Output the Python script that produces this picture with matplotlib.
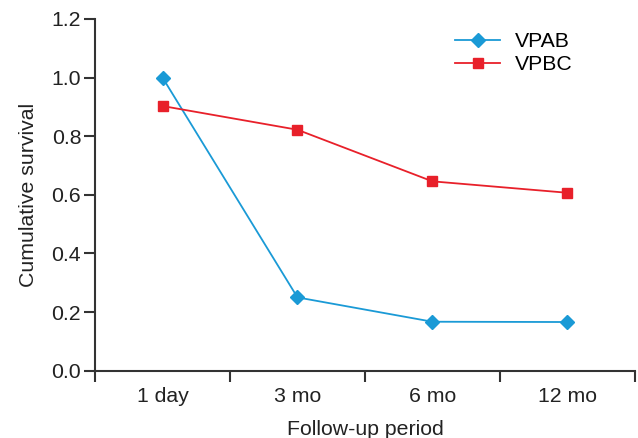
import matplotlib
matplotlib.use("Agg")
import matplotlib.pyplot as plt

plt.rcParams['font.family'] = ['Liberation Sans', 'DejaVu Sans']

# data
periods = ["1 day", "3 mo", "6 mo", "12 mo"]
vpab = [1.0, 0.25, 0.167, 0.166]
vpbc = [0.903, 0.822, 0.646, 0.607]

fs = 15.3
fig = plt.figure(figsize=(6.38, 4.38), dpi=100)
ax = fig.add_axes([0.149, 0.1537, 0.846, 0.803])

x = list(range(len(periods)))
ax.plot(x, vpab, color='#1a9ad6', marker='D', markersize=7, linewidth=1.3, label='VPAB')
ax.plot(x, vpbc, color='#e8202a', marker='s', markersize=6.5, linewidth=1.3, label='VPBC')

ax.set_xlim(-0.5, 3.5)
ax.set_ylim(0, 1.2)
ax.set_yticks([0.0, 0.2, 0.4, 0.6, 0.8, 1.0, 1.2])
ax.set_yticklabels(["0.0", "0.2", "0.4", "0.6", "0.8", "1.0", "1.2"])
ax.set_xticks([-0.5, 0.5, 1.5, 2.5, 3.5])
ax.set_xticklabels([])
ax.set_xticks(x, minor=True)
ax.set_xticklabels(periods, minor=True)
ax.tick_params(axis='x', which='minor', length=0, pad=12, labelsize=fs, colors='#222222')
ax.tick_params(axis='x', which='major', length=8, width=1.5, color='#333333')
ax.tick_params(axis='y', length=8, width=1.5, color='#333333', labelsize=fs, labelcolor='#222222', pad=2)

for s in ['top', 'right']:
    ax.spines[s].set_visible(False)
for s in ['left', 'bottom']:
    ax.spines[s].set_linewidth(1.5)
    ax.spines[s].set_color('#333333')

ax.set_xlabel("Follow-up period", fontsize=fs, color='#222222', labelpad=9.5)
ax.set_ylabel("Cumulative survival", fontsize=fs, color='#222222', labelpad=10)

ax.legend(loc='upper right', bbox_to_anchor=(0.92, 1.017), frameon=False, fontsize=fs,
          handlelength=2.1, handletextpad=0.7, labelspacing=0.2)

fig.savefig("out.png", dpi=100)
